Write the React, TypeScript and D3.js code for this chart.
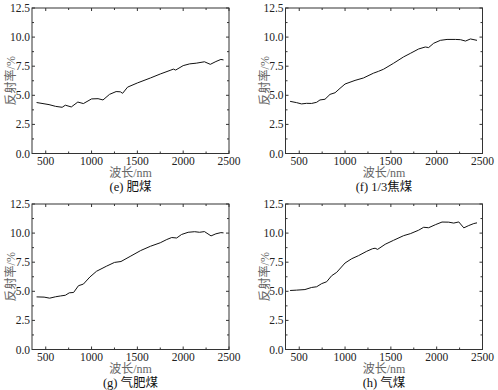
import React from "react";
import * as d3 from "d3";

const wlE = [400, 536, 607, 679, 714, 779, 850, 911, 1000, 1071, 1125, 1196, 1268, 1314, 1339, 1393, 1500, 1643, 1750, 1857, 1893, 1918, 2000, 2071, 2143, 2232, 2296, 2357, 2411, 2440];
const valE = [4.38, 4.2, 4.05, 3.97, 4.15, 4.0, 4.42, 4.29, 4.69, 4.71, 4.6, 5.08, 5.32, 5.3, 5.17, 5.7, 6.06, 6.49, 6.83, 7.14, 7.25, 7.17, 7.55, 7.7, 7.76, 7.88, 7.66, 7.9, 8.08, 8.04];

const wlF = [400, 471, 525, 580, 635, 690, 726, 781, 836, 891, 945, 1000, 1109, 1201, 1310, 1365, 1420, 1529, 1639, 1712, 1803, 1876, 1912, 1967, 2040, 2113, 2204, 2259, 2314, 2369, 2440];
const valF = [4.48, 4.37, 4.26, 4.31, 4.3, 4.4, 4.6, 4.66, 5.08, 5.22, 5.6, 5.97, 6.28, 6.49, 6.9, 7.06, 7.24, 7.75, 8.3, 8.6, 8.98, 9.15, 9.1, 9.47, 9.72, 9.8, 9.8, 9.78, 9.66, 9.84, 9.72];

const wlG = [400, 482, 543, 607, 661, 714, 757, 804, 857, 911, 982, 1054, 1161, 1250, 1321, 1429, 1536, 1643, 1750, 1821, 1875, 1929, 1982, 2054, 2125, 2179, 2232, 2304, 2357, 2411, 2440];
const valG = [4.52, 4.5, 4.41, 4.53, 4.6, 4.66, 4.87, 4.9, 5.48, 5.62, 6.23, 6.72, 7.15, 7.48, 7.56, 8.03, 8.5, 8.87, 9.17, 9.45, 9.62, 9.58, 9.88, 10.07, 10.12, 10.07, 10.13, 9.76, 9.94, 10.04, 10.02];

const wlH = [400, 471, 562, 635, 690, 745, 799, 854, 909, 1000, 1073, 1146, 1237, 1300, 1328, 1355, 1438, 1529, 1639, 1712, 1803, 1858, 1912, 1985, 2058, 2131, 2186, 2241, 2296, 2350, 2405, 2440];
const valH = [5.07, 5.1, 5.15, 5.33, 5.39, 5.66, 5.82, 6.34, 6.63, 7.43, 7.8, 8.06, 8.44, 8.66, 8.7, 8.6, 9.04, 9.38, 9.78, 9.95, 10.25, 10.5, 10.46, 10.72, 10.95, 10.94, 10.86, 10.96, 10.45, 10.65, 10.82, 10.88];

const xTicks = [500, 1000, 1500, 2000, 2500];
const xMinor = [750, 1250, 1750, 2250];
const yTicks = [0, 2.5, 5, 7.5, 10, 12.5];
const yMinor = [1.25, 3.75, 6.25, 8.75, 11.25];

const captions = ["(e) 肥煤", "(f) 1/3焦煤", "(g) 气肥煤", "(h) 气煤"];
const xLabel = "波长/nm";
const yLabel = "反射率/%";

const panels = [
  { wl: wlE, val: valE, left: 32, top: 8, cap: captions[0] },
  { wl: wlF, val: valF, left: 285.5, top: 8, cap: captions[1] },
  { wl: wlG, val: valG, left: 32, top: 204, cap: captions[2] },
  { wl: wlH, val: valH, left: 285.5, top: 204, cap: captions[3] },
];

const W = 197;
const H = 145.5;
const serif = "'Liberation Serif', 'Times New Roman', serif";
const cjk = "'Liberation Serif', 'Noto Sans CJK SC', serif";

function Panel({ p }: { p: typeof panels[number] }) {
  const x = d3.scaleLinear().domain([350, 2500]).range([0, W]);
  const y = d3.scaleLinear().domain([0, 12.5]).range([H, 0]);
  const line = d3
    .line<number>()
    .x((_, i) => x(p.wl[i]))
    .y((d) => y(d));
  const axisColor = "#333";
  return (
    <g transform={`translate(${p.left},${p.top})`}>
      <path d={line(p.val) || ""} fill="none" stroke="#111" strokeWidth={1} />
      <rect x={0} y={0} width={W} height={H} fill="none" stroke={axisColor} strokeWidth={1} />
      {xTicks.map((t) => (
        <g key={"xt" + t}>
          <line x1={x(t)} x2={x(t)} y1={H} y2={H - 3} stroke={axisColor} />
          <line x1={x(t)} x2={x(t)} y1={0} y2={3} stroke={axisColor} />
          <text x={x(t)} y={H + 11} textAnchor="middle" fontFamily={serif} fontSize={11.5} fill="#222">
            {t}
          </text>
        </g>
      ))}
      {xMinor.map((t) => (
        <g key={"xm" + t}>
          <line x1={x(t)} x2={x(t)} y1={H} y2={H - 2} stroke={axisColor} />
          <line x1={x(t)} x2={x(t)} y1={0} y2={2} stroke={axisColor} />
        </g>
      ))}
      {yTicks.map((t) => (
        <g key={"yt" + t}>
          <line x1={0} x2={3} y1={y(t)} y2={y(t)} stroke={axisColor} />
          <line x1={W} x2={W - 3} y1={y(t)} y2={y(t)} stroke={axisColor} />
          <text x={-2} y={y(t) + 4} textAnchor="end" fontFamily={serif} fontSize={11.5} fill="#222">
            {t.toFixed(1)}
          </text>
        </g>
      ))}
      {yMinor.map((t) => (
        <g key={"ym" + t}>
          <line x1={0} x2={2} y1={y(t)} y2={y(t)} stroke={axisColor} />
          <line x1={W} x2={W - 2} y1={y(t)} y2={y(t)} stroke={axisColor} />
        </g>
      ))}
      <text
        transform={`translate(${-17},${H / 2}) rotate(-90)`}
        textAnchor="middle"
        fontFamily={cjk}
        fontSize={12}
        fill="#666"
      >
        {yLabel}
      </text>
      <text x={W / 2} y={H + 23} textAnchor="middle" fontFamily={cjk} fontSize={12} fill="#666">
        {xLabel}
      </text>
      <text x={W / 2} y={H + 37} textAnchor="middle" fontFamily={cjk} fontSize={12.5} fill="#111">
        {p.cap}
      </text>
    </g>
  );
}

export default function App() {
  return (
    <svg
      width={498}
      height={390}
      style={{ position: "absolute", left: 0, top: 0, background: "#fff" }}
    >
      <rect width={498} height={390} fill="#fff" />
      {panels.map((p, i) => (
        <Panel key={i} p={p} />
      ))}
    </svg>
  );
}
